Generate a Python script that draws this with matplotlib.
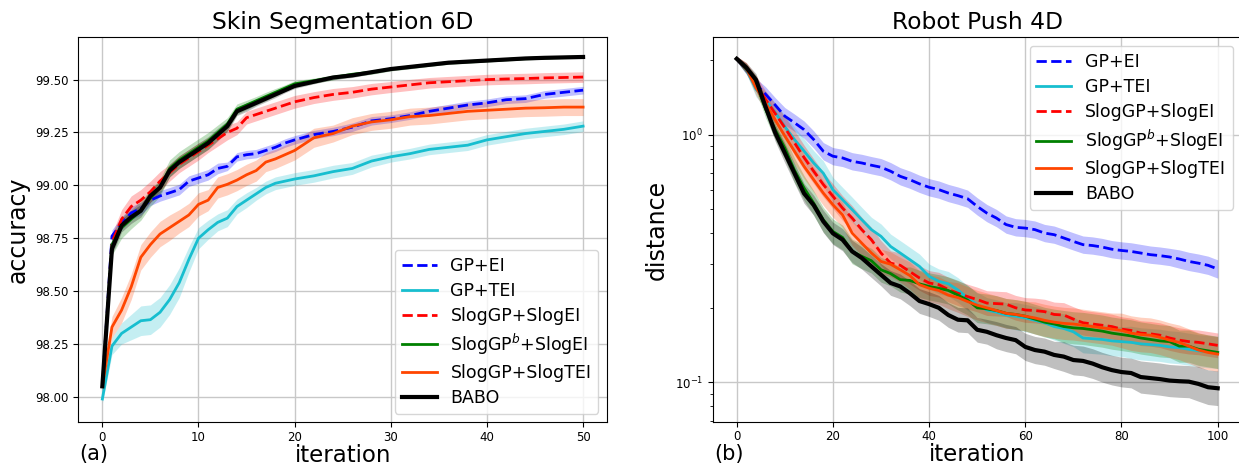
import numpy as np
import matplotlib
matplotlib.use("Agg")
import matplotlib.pyplot as plt

# ---------------- Panel (a): Skin Segmentation 6D ----------------
iter_a = [0, 1, 2, 3, 4, 5, 6, 7, 8, 9, 10, 11, 12, 13, 14, 15, 16, 17, 18, 19, 20,
          22, 24, 26, 28, 30, 32, 34, 36, 38, 40, 42, 44, 46, 48, 50]

a_gp_ei = [98.05, 98.76, 98.82, 98.87, 98.89, 98.93, 98.95, 98.965, 98.98, 99.02, 99.035,
           99.05, 99.08, 99.09, 99.135, 99.145, 99.15, 99.165, 99.18, 99.20, 99.215,
           99.24, 99.255, 99.275, 99.305, 99.315, 99.33, 99.35, 99.365, 99.38, 99.39,
           99.405, 99.41, 99.43, 99.44, 99.45]
a_gp_ei_sd = [0.01, 0.03, 0.03, 0.03, 0.03, 0.025, 0.025, 0.025, 0.025, 0.025, 0.025,
              0.025, 0.025, 0.02, 0.02, 0.02, 0.02, 0.02, 0.02, 0.02, 0.02,
              0.02, 0.02, 0.02, 0.02, 0.018, 0.018, 0.018, 0.018, 0.018, 0.018,
              0.018, 0.018, 0.018, 0.018, 0.018]

a_gp_tei = [97.99, 98.24, 98.30, 98.33, 98.36, 98.365, 98.40, 98.46, 98.54, 98.65, 98.75,
            98.79, 98.825, 98.845, 98.90, 98.93, 98.96, 98.99, 99.01, 99.02, 99.03,
            99.045, 99.065, 99.08, 99.115, 99.135, 99.15, 99.17, 99.18, 99.19, 99.215,
            99.23, 99.245, 99.255, 99.265, 99.28]
a_gp_tei_sd = [0.02, 0.04, 0.05, 0.06, 0.07, 0.07, 0.07, 0.07, 0.07, 0.06, 0.05,
               0.045, 0.04, 0.04, 0.035, 0.035, 0.03, 0.03, 0.03, 0.03, 0.03,
               0.03, 0.03, 0.028, 0.028, 0.025, 0.025, 0.025, 0.025, 0.025, 0.025,
               0.025, 0.025, 0.025, 0.025, 0.025]

a_slog_ei = [98.05, 98.73, 98.84, 98.90, 98.93, 98.97, 99.02, 99.06, 99.10, 99.13, 99.16,
             99.19, 99.22, 99.25, 99.27, 99.32, 99.335, 99.35, 99.365, 99.38, 99.395,
             99.415, 99.43, 99.44, 99.455, 99.465, 99.475, 99.485, 99.49, 99.495, 99.50,
             99.503, 99.505, 99.508, 99.51, 99.512]
a_slog_ei_sd = [0.02, 0.04, 0.045, 0.05, 0.05, 0.05, 0.045, 0.04, 0.04, 0.04, 0.04,
                0.035, 0.035, 0.035, 0.03, 0.03, 0.03, 0.03, 0.03, 0.03, 0.03,
                0.028, 0.028, 0.027, 0.027, 0.026, 0.026, 0.025, 0.025, 0.025, 0.025,
                0.025, 0.025, 0.025, 0.025, 0.025]

a_slogb_ei = [98.05, 98.72, 98.80, 98.84, 98.88, 98.94, 98.99, 99.08, 99.12, 99.15, 99.18,
              99.21, 99.25, 99.29, 99.36, 99.38, 99.40, 99.42, 99.44, 99.46, 99.48,
              99.495, 99.51, 99.525, 99.535, 99.55, 99.56, 99.57, 99.58, 99.585, 99.59,
              99.595, 99.60, 99.603, 99.605, 99.606]
a_slogb_ei_sd = [0.02, 0.05, 0.05, 0.045, 0.045, 0.04, 0.04, 0.04, 0.04, 0.04, 0.04,
                 0.04, 0.035, 0.03, 0.025, 0.022, 0.02, 0.02, 0.018, 0.015, 0.015,
                 0.012, 0.012, 0.01, 0.01, 0.009, 0.009, 0.008, 0.008, 0.008, 0.007,
                 0.007, 0.007, 0.006, 0.006, 0.006]

a_slog_tei = [98.05, 98.33, 98.41, 98.52, 98.66, 98.72, 98.77, 98.80, 98.83, 98.86, 98.91,
              98.93, 98.99, 99.005, 99.025, 99.05, 99.07, 99.11, 99.125, 99.145, 99.165,
              99.225, 99.245, 99.28, 99.30, 99.31, 99.325, 99.33, 99.34, 99.35, 99.355,
              99.36, 99.365, 99.367, 99.37, 99.37]
a_slog_tei_sd = [0.03, 0.05, 0.06, 0.06, 0.06, 0.06, 0.06, 0.06, 0.055, 0.055, 0.055,
                 0.05, 0.05, 0.05, 0.05, 0.05, 0.05, 0.045, 0.045, 0.045, 0.045,
                 0.045, 0.04, 0.04, 0.04, 0.04, 0.04, 0.04, 0.04, 0.04, 0.04,
                 0.04, 0.04, 0.04, 0.04, 0.04]

a_babo = [98.05, 98.70, 98.81, 98.85, 98.88, 98.95, 98.99, 99.07, 99.11, 99.14, 99.17,
          99.20, 99.24, 99.28, 99.35, 99.37, 99.39, 99.41, 99.43, 99.45, 99.47,
          99.49, 99.51, 99.52, 99.535, 99.55, 99.56, 99.57, 99.58, 99.585, 99.59,
          99.595, 99.60, 99.603, 99.605, 99.607]
a_babo_sd = [0.01, 0.03, 0.03, 0.03, 0.03, 0.03, 0.03, 0.03, 0.03, 0.03, 0.03,
             0.03, 0.03, 0.025, 0.02, 0.02, 0.015, 0.015, 0.015, 0.012, 0.012,
             0.01, 0.01, 0.01, 0.008, 0.008, 0.008, 0.007, 0.007, 0.006, 0.006,
             0.006, 0.005, 0.005, 0.005, 0.005]

# ---------------- Panel (b): Robot Push 4D ----------------
iter_b = list(range(0, 101, 2))

b_gp_ei = [2.03, 1.84, 1.60, 1.46, 1.32, 1.19, 1.12, 1.05, 0.958, 0.859, 0.82,
           0.807, 0.782, 0.77, 0.754, 0.74, 0.713, 0.68, 0.659, 0.634, 0.614,
           0.601, 0.582, 0.568, 0.552, 0.514, 0.483, 0.461, 0.434, 0.423, 0.42,
           0.414, 0.401, 0.395, 0.383, 0.371, 0.36, 0.357, 0.352, 0.345, 0.341,
           0.338, 0.333, 0.328, 0.325, 0.321, 0.315, 0.308, 0.303, 0.297, 0.287]
b_gp_ei_sd = [0.01, 0.02, 0.025, 0.03, 0.03, 0.035, 0.035, 0.035, 0.035, 0.035, 0.035,
              0.035, 0.035, 0.035, 0.035, 0.035, 0.035, 0.035, 0.035, 0.035, 0.035,
              0.035, 0.035, 0.035, 0.035, 0.035, 0.035, 0.035, 0.035, 0.035, 0.035,
              0.035, 0.035, 0.035, 0.035, 0.035, 0.035, 0.035, 0.035, 0.035, 0.035,
              0.035, 0.035, 0.035, 0.035, 0.035, 0.037, 0.037, 0.037, 0.037, 0.037]

b_gp_tei = [2.03, 1.85, 1.53, 1.38, 1.23, 1.08, 0.958, 0.86, 0.77, 0.70, 0.60,
            0.547, 0.499, 0.454, 0.414, 0.389, 0.354, 0.333, 0.313, 0.294, 0.268,
            0.256, 0.25, 0.236, 0.219, 0.206, 0.196, 0.192, 0.187, 0.185, 0.182,
            0.178, 0.174, 0.168, 0.165, 0.160, 0.151, 0.150, 0.149, 0.147, 0.146,
            0.145, 0.143, 0.142, 0.141, 0.139, 0.138, 0.136, 0.134, 0.133, 0.132]
b_gp_tei_sd = [0.01, 0.02, 0.03, 0.035, 0.04, 0.045, 0.05, 0.05, 0.05, 0.05, 0.05,
               0.05, 0.05, 0.05, 0.05, 0.05, 0.05, 0.05, 0.05, 0.05, 0.05,
               0.05, 0.05, 0.05, 0.05, 0.05, 0.05, 0.05, 0.05, 0.055, 0.055,
               0.055, 0.055, 0.055, 0.06, 0.06, 0.06, 0.06, 0.06, 0.06, 0.06,
               0.065, 0.065, 0.065, 0.065, 0.065, 0.065, 0.065, 0.065, 0.065, 0.065]

b_slog_ei = [2.03, 1.87, 1.62, 1.39, 1.22, 1.07, 0.93, 0.81, 0.713, 0.63, 0.565,
             0.506, 0.461, 0.414, 0.377, 0.333, 0.303, 0.297, 0.28, 0.264, 0.252,
             0.248, 0.237, 0.229, 0.222, 0.216, 0.209, 0.208, 0.207, 0.20, 0.196,
             0.195, 0.193, 0.188, 0.187, 0.18, 0.174, 0.172, 0.17, 0.168, 0.164,
             0.162, 0.158, 0.157, 0.155, 0.151, 0.148, 0.146, 0.145, 0.143, 0.141]
b_slog_ei_sd = [0.01, 0.02, 0.03, 0.035, 0.04, 0.045, 0.05, 0.05, 0.05, 0.05, 0.05,
                0.05, 0.05, 0.05, 0.05, 0.05, 0.05, 0.05, 0.05, 0.05, 0.05,
                0.05, 0.05, 0.05, 0.05, 0.05, 0.05, 0.05, 0.05, 0.05, 0.05,
                0.05, 0.05, 0.05, 0.05, 0.05, 0.05, 0.05, 0.05, 0.05, 0.05,
                0.05, 0.05, 0.05, 0.05, 0.05, 0.05, 0.05, 0.05, 0.05, 0.05]

b_slogb_ei = [2.03, 1.85, 1.62, 1.27, 1.05, 0.885, 0.72, 0.61, 0.53, 0.454, 0.407,
              0.385, 0.338, 0.323, 0.31, 0.285, 0.275, 0.26, 0.258, 0.25, 0.244,
              0.24, 0.235, 0.225, 0.215, 0.20, 0.198, 0.195, 0.19, 0.188, 0.185,
              0.18, 0.175, 0.172, 0.168, 0.166, 0.165, 0.163, 0.161, 0.158, 0.156,
              0.154, 0.151, 0.149, 0.147, 0.146, 0.14, 0.14, 0.136, 0.134, 0.132]
b_slogb_ei_sd = [0.01, 0.02, 0.03, 0.035, 0.04, 0.045, 0.05, 0.05, 0.05, 0.05, 0.05,
                 0.05, 0.05, 0.05, 0.05, 0.05, 0.05, 0.05, 0.055, 0.055, 0.055,
                 0.055, 0.055, 0.06, 0.06, 0.06, 0.06, 0.06, 0.06, 0.06, 0.06,
                 0.06, 0.06, 0.06, 0.065, 0.065, 0.065, 0.065, 0.065, 0.065, 0.065,
                 0.065, 0.065, 0.065, 0.065, 0.065, 0.065, 0.065, 0.065, 0.065, 0.065]

b_slog_tei = [2.03, 1.86, 1.55, 1.35, 1.15, 0.99, 0.859, 0.746, 0.659, 0.582, 0.522,
              0.475, 0.401, 0.365, 0.333, 0.308, 0.30, 0.285, 0.27, 0.248, 0.24,
              0.235, 0.225, 0.22, 0.212, 0.205, 0.20, 0.195, 0.19, 0.188, 0.185,
              0.182, 0.178, 0.175, 0.173, 0.172, 0.17, 0.168, 0.166, 0.164, 0.162,
              0.158, 0.156, 0.155, 0.152, 0.148, 0.145, 0.14, 0.135, 0.132, 0.13]
b_slog_tei_sd = [0.01, 0.02, 0.03, 0.035, 0.04, 0.045, 0.05, 0.05, 0.05, 0.05, 0.05,
                 0.05, 0.05, 0.05, 0.05, 0.05, 0.05, 0.05, 0.055, 0.055, 0.055,
                 0.055, 0.055, 0.06, 0.06, 0.06, 0.06, 0.06, 0.06, 0.06, 0.06,
                 0.065, 0.065, 0.065, 0.065, 0.065, 0.065, 0.065, 0.065, 0.065, 0.07,
                 0.07, 0.07, 0.07, 0.07, 0.07, 0.07, 0.07, 0.07, 0.07, 0.07]

b_babo = [2.03, 1.87, 1.67, 1.30, 1.02, 0.845, 0.70, 0.58, 0.52, 0.447, 0.40,
          0.377, 0.338, 0.318, 0.294, 0.272, 0.252, 0.244, 0.229, 0.213, 0.207,
          0.20, 0.187, 0.179, 0.178, 0.163, 0.16, 0.155, 0.151, 0.148, 0.139,
          0.135, 0.133, 0.129, 0.127, 0.123, 0.122, 0.119, 0.115, 0.112, 0.110,
          0.109, 0.105, 0.104, 0.103, 0.1016, 0.101, 0.1006, 0.0985, 0.0955, 0.0946]
b_babo_sd = [0.01, 0.02, 0.025, 0.03, 0.035, 0.04, 0.04, 0.04, 0.04, 0.045, 0.045,
             0.045, 0.045, 0.045, 0.045, 0.045, 0.05, 0.05, 0.05, 0.05, 0.05,
             0.05, 0.05, 0.05, 0.05, 0.05, 0.05, 0.055, 0.055, 0.055, 0.055,
             0.055, 0.055, 0.055, 0.06, 0.06, 0.06, 0.06, 0.06, 0.06, 0.06,
             0.06, 0.065, 0.065, 0.065, 0.065, 0.065, 0.065, 0.07, 0.07, 0.07]

labels = ["GP+EI", "GP+TEI", "SlogGP+SlogEI", "SlogGP$^b$+SlogEI", "SlogGP+SlogTEI", "BABO"]
colors = ["#0000ff", "#17becf", "#ff0000", "#008000", "#ff4500", "#000000"]
styles = ["--", "-", "--", "-", "-", "-"]
widths = [2.0, 2.0, 2.0, 2.0, 2.0, 3.0]

series_a = [(a_gp_ei, a_gp_ei_sd), (a_gp_tei, a_gp_tei_sd), (a_slog_ei, a_slog_ei_sd),
            (a_slogb_ei, a_slogb_ei_sd), (a_slog_tei, a_slog_tei_sd), (a_babo, a_babo_sd)]
series_b = [(b_gp_ei, b_gp_ei_sd), (b_gp_tei, b_gp_tei_sd), (b_slog_ei, b_slog_ei_sd),
            (b_slogb_ei, b_slogb_ei_sd), (b_slog_tei, b_slog_tei_sd), (b_babo, b_babo_sd)]

plt.rcParams['font.family'] = ['DejaVu Sans']
fig = plt.figure(figsize=(12.39, 4.68), dpi=100)
ax1 = fig.add_axes([0.0632, 0.0977, 0.4268, 0.8226])
ax2 = fig.add_axes([0.5752, 0.0983, 0.4270, 0.8220])

xa = np.array(iter_a)
for (m, s), lab, c, ls, lw in zip(series_a, labels, colors, styles, widths):
    m = np.array(m); s = np.array(s)
    ax1.plot(xa, m, ls, color=c, lw=lw, label=lab, zorder=3)
    ax1.fill_between(xa, m - s, m + s, color=c, alpha=0.25, lw=0, zorder=2)

xb = np.array(iter_b)
for (m, s), lab, c, ls, lw in zip(series_b, labels, colors, styles, widths):
    m = np.array(m); s = np.array(s)
    ax2.plot(xb, m, ls, color=c, lw=lw, label=lab, zorder=3)
    ax2.fill_between(xb, m / 10**s, m * 10**s, color=c, alpha=0.25, lw=0, zorder=2)

ax1.set_xlim(-2.5, 52.5)
ax1.set_ylim(97.88, 99.70)
ax1.set_yticks([98.00, 98.25, 98.50, 98.75, 99.00, 99.25, 99.50])
ax1.set_xticks([0, 10, 20, 30, 40, 50])
ax1.yaxis.set_major_formatter(matplotlib.ticker.FormatStrFormatter('%.2f'))

ax2.set_yscale('log')
ax2.set_xlim(-5, 105)
ax2.set_ylim(0.0691, 2.48)
ax2.set_xticks([0, 20, 40, 60, 80, 100])

for ax in (ax1, ax2):
    ax.grid(True, color='#c8c8c8', lw=1.0, zorder=0)
    ax.set_axisbelow(True)
    ax.tick_params(labelsize=8.5)
    ax.tick_params(axis='x', pad=2.5)
    ax.set_xlabel('iteration', fontsize=16.5, labelpad=0)

ax1.set_title('Skin Segmentation 6D', fontsize=16.8)
ax2.set_title('Robot Push 4D', fontsize=16.8)
ax1.set_ylabel('accuracy', fontsize=17)
ax2.set_ylabel('distance', fontsize=17)

ax1.legend(loc='lower right', fontsize=12.5, labelspacing=0.4)
ax2.legend(loc='upper right', fontsize=12.5, labelspacing=0.4)

fig.text(79 / 1239, 0.008, '(a)', fontsize=15, va='bottom')
fig.text(714 / 1239, 0.008, '(b)', fontsize=15, va='bottom')

fig.savefig('out.png', dpi=100)
